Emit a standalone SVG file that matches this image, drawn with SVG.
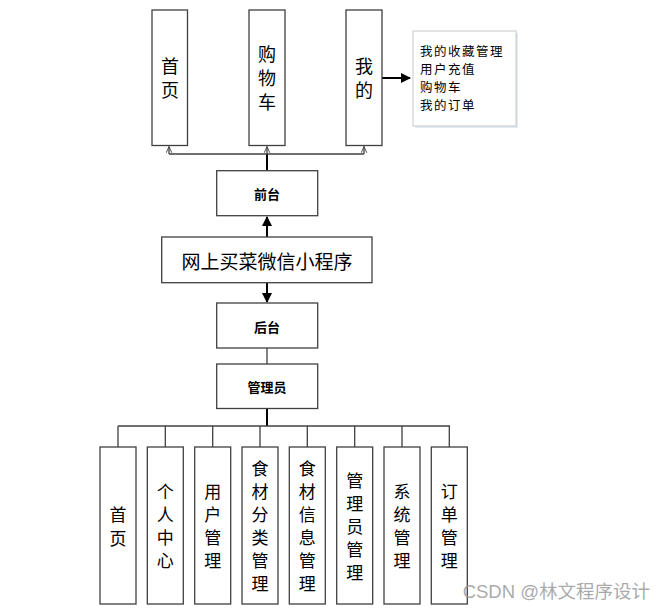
<svg xmlns="http://www.w3.org/2000/svg" width="665" height="610" viewBox="0 0 665 610">
<defs>
<style>
.box{fill:#fff;stroke:#404040;stroke-width:1.3}
.sh{fill:#e3e9f2}
.t{font-family:"Noto Sans CJK SC","Noto Sans",sans-serif;fill:#000;text-anchor:middle;dominant-baseline:central}
.v{font-size:17px}
.vt{font-size:18px}
.s{font-size:13px}
.ls{font-size:12.5px;letter-spacing:1.5px;text-anchor:start}
.ln{fill:none;stroke:#404040;stroke-width:1.3}
.lk{fill:none;stroke:#000;stroke-width:2}
</style>
<marker id="fa" viewBox="0 0 10 10" refX="9" refY="5" markerWidth="5" markerHeight="5" orient="auto" markerUnits="strokeWidth"><path d="M0,0 L10,5 L0,10 z" fill="#000"/></marker>
<marker id="oa" viewBox="0 0 10 10" refX="9" refY="5" markerWidth="7" markerHeight="7" orient="auto" markerUnits="userSpaceOnUse"><path d="M0,1 L9,5 L0,9" fill="none" stroke="#404040" stroke-width="1.3"/></marker>
</defs>
<rect width="665" height="610" fill="#fff"/>
<g id="connectors">
<path class="lk" d="M267,170 V154"/>
<path class="ln" d="M169,154 H364"/>
<path class="ln" d="M169,154 V146.5" marker-end="url(#oa)"/>
<path class="ln" d="M267,154 V146.5" marker-end="url(#oa)"/>
<path class="ln" d="M364,154 V146.5" marker-end="url(#oa)"/>
<path class="lk" d="M382,78 H410" marker-end="url(#fa)"/>
<path class="lk" d="M267,237 V217" marker-end="url(#fa)"/>
<path class="lk" d="M267,283 V302" marker-end="url(#fa)"/>
<path class="ln" d="M267,348 V364"/>
<path class="lk" d="M267,409 V426"/>
<path class="ln" d="M118,426 H450"/>
<path class="ln" d="M118,426 V447 M165.3,426 V447 M212.7,426 V447 M260,426 V447 M307.3,426 V447 M354.7,426 V447 M402,426 V447 M449.3,426 V447"/>
</g>
<g id="n-home"><rect class="box" x="152" y="10" width="35.5" height="135.5"/><text class="t vt"><tspan x="170" y="65">首</tspan><tspan x="170" y="89">页</tspan></text></g>
<g id="n-cart"><rect class="box" x="249" y="10" width="36" height="135.5"/><text class="t vt"><tspan x="267" y="53">购</tspan><tspan x="267" y="77">物</tspan><tspan x="267" y="101">车</tspan></text></g>
<g id="n-mine"><rect class="box" x="346" y="10" width="36" height="135.5"/><text class="t vt"><tspan x="364" y="65">我</tspan><tspan x="364" y="89">的</tspan></text></g>
<g id="n-minelist"><rect class="sh" x="415" y="33" width="103" height="95"/><rect x="413" y="31" width="103" height="95" fill="#fff" stroke="#c8c8c8" stroke-width="1"/>
<text class="t ls" x="420" y="50">我的收藏管理</text>
<text class="t ls" x="420" y="68">用户充值</text>
<text class="t ls" x="420" y="86">购物车</text>
<text class="t ls" x="420" y="104">我的订单</text></g>
<g id="n-front"><rect class="box" x="216.7" y="170.7" width="101" height="45"/><text class="t s" x="267" y="193" font-weight="bold">前台</text></g>
<g id="n-app"><rect class="box" x="161.7" y="237" width="210.3" height="45.7"/><text class="t" x="267" y="260" font-size="19">网上买菜微信小程序</text></g>
<g id="n-back"><rect class="box" x="216.7" y="303" width="101" height="45"/><text class="t s" x="267" y="326" font-weight="bold">后台</text></g>
<g id="n-admin"><rect class="box" x="216.7" y="364" width="101" height="44.5"/><text class="t s" x="267" y="386" font-weight="bold">管理员</text></g>
<g id="b-home"><rect class="box" x="100" y="447" width="36" height="157"/><text class="t v"><tspan x="118" y="513">首</tspan><tspan x="118" y="537">页</tspan></text></g>
<g id="b-center"><rect class="box" x="147.3" y="447" width="36" height="157"/><text class="t v"><tspan x="165.3" y="490">个</tspan><tspan x="165.3" y="513">人</tspan><tspan x="165.3" y="536">中</tspan><tspan x="165.3" y="559">心</tspan></text></g>
<g id="b-user"><rect class="box" x="194.7" y="447" width="36" height="157"/><text class="t v"><tspan x="212.7" y="490">用</tspan><tspan x="212.7" y="513">户</tspan><tspan x="212.7" y="536">管</tspan><tspan x="212.7" y="559">理</tspan></text></g>
<g id="b-cat"><rect class="box" x="242" y="447" width="36" height="157"/><text class="t v"><tspan x="260" y="467">食</tspan><tspan x="260" y="490">材</tspan><tspan x="260" y="513">分</tspan><tspan x="260" y="536">类</tspan><tspan x="260" y="559">管</tspan><tspan x="260" y="582">理</tspan></text></g>
<g id="b-info"><rect class="box" x="289.3" y="447" width="36" height="157"/><text class="t v"><tspan x="307.3" y="467">食</tspan><tspan x="307.3" y="490">材</tspan><tspan x="307.3" y="513">信</tspan><tspan x="307.3" y="536">息</tspan><tspan x="307.3" y="559">管</tspan><tspan x="307.3" y="582">理</tspan></text></g>
<g id="b-adm"><rect class="box" x="336.7" y="447" width="36" height="157"/><text class="t v"><tspan x="354.7" y="479">管</tspan><tspan x="354.7" y="502">理</tspan><tspan x="354.7" y="525">员</tspan><tspan x="354.7" y="548">管</tspan><tspan x="354.7" y="571">理</tspan></text></g>
<g id="b-sys"><rect class="box" x="384" y="447" width="36" height="157"/><text class="t v"><tspan x="402" y="490">系</tspan><tspan x="402" y="513">统</tspan><tspan x="402" y="536">管</tspan><tspan x="402" y="559">理</tspan></text></g>
<g id="b-order"><rect class="box" x="431.3" y="447" width="36" height="157"/><text class="t v"><tspan x="449.3" y="490">订</tspan><tspan x="449.3" y="513">单</tspan><tspan x="449.3" y="536">管</tspan><tspan x="449.3" y="559">理</tspan></text></g>
<text x="650" y="591" font-family="Liberation Sans,Noto Sans CJK SC,sans-serif" font-size="18.5" fill="#9a9a9a" fill-opacity="0.85" text-anchor="end" dominant-baseline="central">CSDN @林文程序设计</text>
</svg>
